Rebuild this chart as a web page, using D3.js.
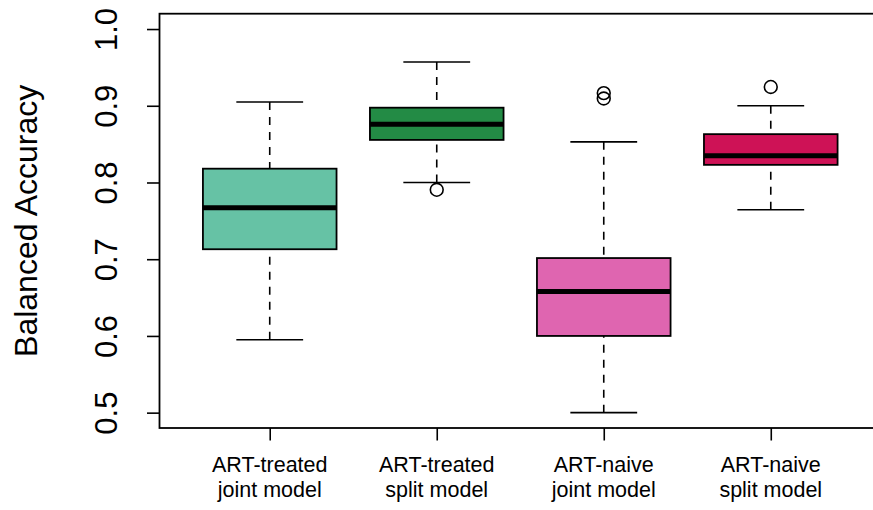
<!DOCTYPE html>
<html>
<head>
<meta charset="utf-8">
<script src="https://cdn.jsdelivr.net/npm/d3@7"></script>
<style>
  html, body { margin: 0; padding: 0; background: #fff; }
  svg { display: block; font-family: "Liberation Sans", Arial, sans-serif; }
</style>
</head>
<body>
<svg id="chart" width="873" height="510"></svg>
<script>
// Group labels (two lines each)
const categories = [
  ["ART-treated", "joint model"],
  ["ART-treated", "split model"],
  ["ART-naive", "joint model"],
  ["ART-naive", "split model"]
];
// Five-number summaries per group
const whiskerLow  = [0.595, 0.800, 0.500, 0.7645];
const quartile1   = [0.713, 0.8555, 0.600, 0.823];
const medians     = [0.767, 0.876, 0.658, 0.835];
const quartile3   = [0.818, 0.8975, 0.7015, 0.863];
const whiskerHigh = [0.905, 0.957, 0.853, 0.900];
// Points beyond the whiskers
const outliers = [[], [0.7905], [0.9165, 0.9095], [0.9245]];
const fills = ["#66c2a5", "#238b45", "#df65b0", "#ce1256"];
const yTicks = [0.5, 0.6, 0.7, 0.8, 0.9, 1.0];
const yTitle = "Balanced Accuracy";

const svg = d3.select("#chart");
const plotL = 159.5, plotR = 881, plotT = 13.7, plotB = 428;

const x = d3.scaleLinear().domain([0.34, 4.66]).range([plotL, plotR]);
const y = d3.scaleLinear().domain([0.48, 1.02]).range([plotB, plotT]);
const boxHalf = x(1.4) - x(1);
const capHalf = x(1.2) - x(1);

const rows = categories.map((c, i) => ({
  i, pos: i + 1, c,
  lo: whiskerLow[i], q1: quartile1[i], med: medians[i], q3: quartile3[i], hi: whiskerHigh[i],
  out: outliers[i], fill: fills[i]
}));

const g = svg.append("g");
const box = g.selectAll("g.box").data(rows).join("g").attr("class", "box");

// dashed whiskers, drawn from the cap toward the box
box.append("line")
  .attr("x1", d => x(d.pos)).attr("x2", d => x(d.pos))
  .attr("y1", d => y(d.lo)).attr("y2", d => y(d.q1))
  .attr("stroke", "#000").attr("stroke-width", 1.6).attr("stroke-dasharray", "8,7");
box.append("line")
  .attr("x1", d => x(d.pos)).attr("x2", d => x(d.pos))
  .attr("y1", d => y(d.hi)).attr("y2", d => y(d.q3))
  .attr("stroke", "#000").attr("stroke-width", 1.6).attr("stroke-dasharray", "8,7");
// caps
["lo", "hi"].forEach(k => {
  box.append("line")
    .attr("x1", d => x(d.pos) - capHalf).attr("x2", d => x(d.pos) + capHalf)
    .attr("y1", d => y(d[k])).attr("y2", d => y(d[k]))
    .attr("stroke", "#000").attr("stroke-width", 1.6);
});
// boxes
box.append("rect")
  .attr("x", d => x(d.pos) - boxHalf)
  .attr("width", 2 * boxHalf)
  .attr("y", d => y(d.q3))
  .attr("height", d => y(d.q1) - y(d.q3))
  .attr("fill", d => d.fill)
  .attr("stroke", "#000").attr("stroke-width", 1.8);
// medians
box.append("line")
  .attr("x1", d => x(d.pos) - boxHalf).attr("x2", d => x(d.pos) + boxHalf)
  .attr("y1", d => y(d.med)).attr("y2", d => y(d.med))
  .attr("stroke", "#000").attr("stroke-width", 5);
// outliers
box.selectAll("circle")
  .data(d => d.out.map(v => ({ v, pos: d.pos })))
  .join("circle")
  .attr("cx", d => x(d.pos)).attr("cy", d => y(d.v))
  .attr("r", 6.4)
  .attr("fill", "none").attr("stroke", "#000").attr("stroke-width", 1.6);

// frame
svg.append("rect")
  .attr("x", plotL).attr("y", plotT)
  .attr("width", plotR - plotL).attr("height", plotB - plotT)
  .attr("fill", "none").attr("stroke", "#000").attr("stroke-width", 1.8);

// y axis
const yAxis = svg.append("g")
  .attr("transform", `translate(${plotL},0)`)
  .call(d3.axisLeft(y).tickValues(yTicks).tickSize(12.5).tickFormat(d3.format(".1f")));
yAxis.select(".domain").remove();
yAxis.selectAll(".tick line").attr("stroke", "#000").attr("stroke-width", 1.6);
yAxis.selectAll(".tick text")
  .attr("x", null).attr("dy", null)
  .attr("transform", "translate(-43,0) rotate(-90)")
  .attr("text-anchor", "middle")
  .attr("font-size", 31)
  .attr("font-family", "Liberation Sans, Arial, sans-serif")
  .attr("fill", "#000");

// x axis
const xAxis = svg.append("g")
  .attr("transform", `translate(0,${plotB})`)
  .call(d3.axisBottom(x).tickValues(rows.map(d => d.pos)).tickSize(12.5).tickFormat(""));
xAxis.select(".domain").remove();
xAxis.selectAll(".tick line").attr("stroke", "#000").attr("stroke-width", 1.6);

const xl = svg.append("g").selectAll("text").data(rows).join("text")
  .attr("text-anchor", "middle")
  .attr("font-size", 21.5)
  .attr("fill", "#000");
xl.append("tspan").attr("x", d => x(d.pos)).attr("y", 471.7).text(d => d.c[0]);
xl.append("tspan").attr("x", d => x(d.pos)).attr("y", 496.7).text(d => d.c[1]);

// y title
svg.append("text")
  .attr("transform", `translate(37,${(plotT + plotB) / 2}) rotate(-90)`)
  .attr("text-anchor", "middle")
  .attr("font-size", 32)
  .attr("fill", "#000")
  .text(yTitle);
</script>
</body>
</html>
